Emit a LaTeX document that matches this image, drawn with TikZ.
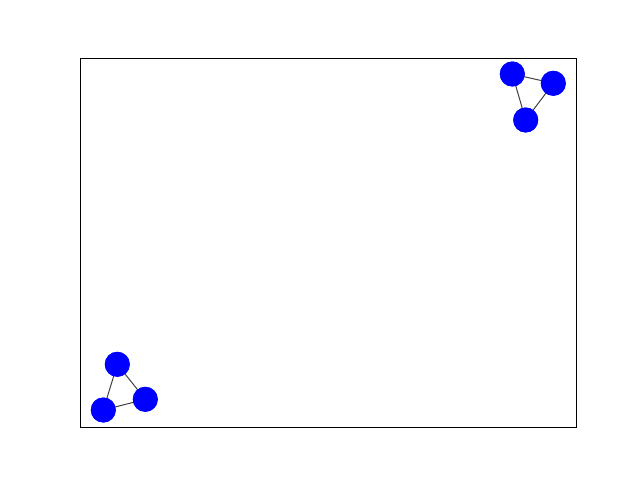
\documentclass[tikz,border=0pt]{standalone}
\begin{document}
\begin{tikzpicture}[x=1pt,y=-1pt,
  vtx/.style={circle,fill=blue,draw=none,minimum size=25pt,inner sep=0pt},
  edge/.style={draw=black!75,line width=1pt},
  frame/.style={draw=black,line width=0.8pt}]
\useasboundingbox (0,0) rectangle (640,480);
\draw[frame] (80.5,58) rectangle (576,427);
\node[vtx] (a) at (512.3,74) {};
\node[vtx] (b) at (553.3,83.3) {};
\node[vtx] (c) at (525.7,120) {};
\node[vtx] (d) at (117.3,364.3) {};
\node[vtx] (e) at (145.3,399.3) {};
\node[vtx] (f) at (103.3,410) {};
\begin{scope}[on background layer/.try]
\end{scope}
\draw[edge] (a.center) -- (b.center);
\draw[edge] (a.center) -- (c.center);
\draw[edge] (b.center) -- (c.center);
\draw[edge] (d.center) -- (e.center);
\draw[edge] (d.center) -- (f.center);
\draw[edge] (e.center) -- (f.center);
\node[vtx] at (a) {};
\node[vtx] at (b) {};
\node[vtx] at (c) {};
\node[vtx] at (d) {};
\node[vtx] at (e) {};
\node[vtx] at (f) {};
\end{tikzpicture}
\end{document}
